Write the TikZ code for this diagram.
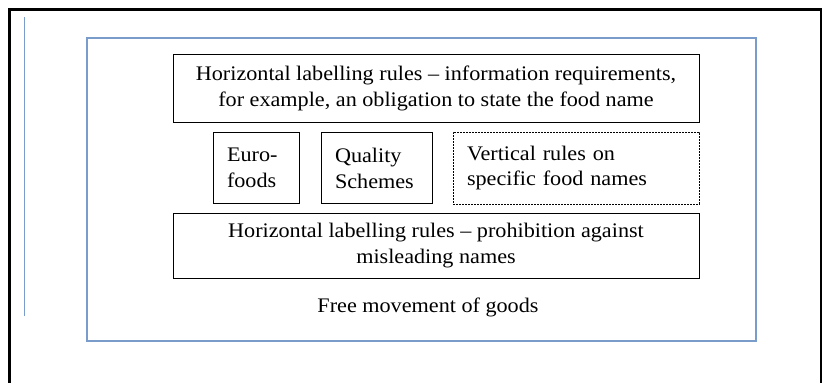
\documentclass[tikz,border=0pt]{standalone}
\usepackage{fontspec}
\setmainfont[FakeStretch=1.07]{Liberation Serif}
\definecolor{bcol}{RGB}{122,156,202}
\tikzset{box/.style={draw,line width=.8pt,inner xsep=14bp,inner ysep=0pt,font=\fontsize{20.8}{26}\selectfont}}
\tikzset{wide/.style={minimum width=526bp,align=center}}
\tikzset{small/.style={align=left,minimum height=71bp}}
\tikzset{frame/.style={line width=3bp}}

\begin{document}
\begin{tikzpicture}[x=1bp,y=-1bp]
\useasboundingbox (0,0) rectangle (822,382);
\clip (0,0) rectangle (822,382);
\draw [frame] (9,9) rectangle (821,420);
\draw [bcol,line width=1.5bp] (24.5,17) -- (24.5,316);
\draw [bcol,line width=2bp] (87,38) rectangle (756,341);

\node [box,wide,minimum height=68bp] (info) at (436,88) {Horizontal labelling rules -- information requirements,\\for example, an obligation to state the food name};

\node [box,small,text width=58bp] (euro) at (256,167.5) {Euro-\\foods};
\node [box,small,text width=83bp] (quality) at (376.5,168) {Quality\\Schemes};
\node [box,small,text width=218bp,dashed,dash pattern=on 2bp off 1bp,minimum height=72bp] (vertical) at (576,168) {Vertical rules on\\specific food names};

\node [box,wide,minimum height=65bp] (mislead) at (436,245.5) {Horizontal labelling rules -- prohibition against\\misleading names};

\node [font=\fontsize{20.8}{26}\selectfont] (free) at (428,307) {Free movement of goods};
\end{tikzpicture}
\end{document}
